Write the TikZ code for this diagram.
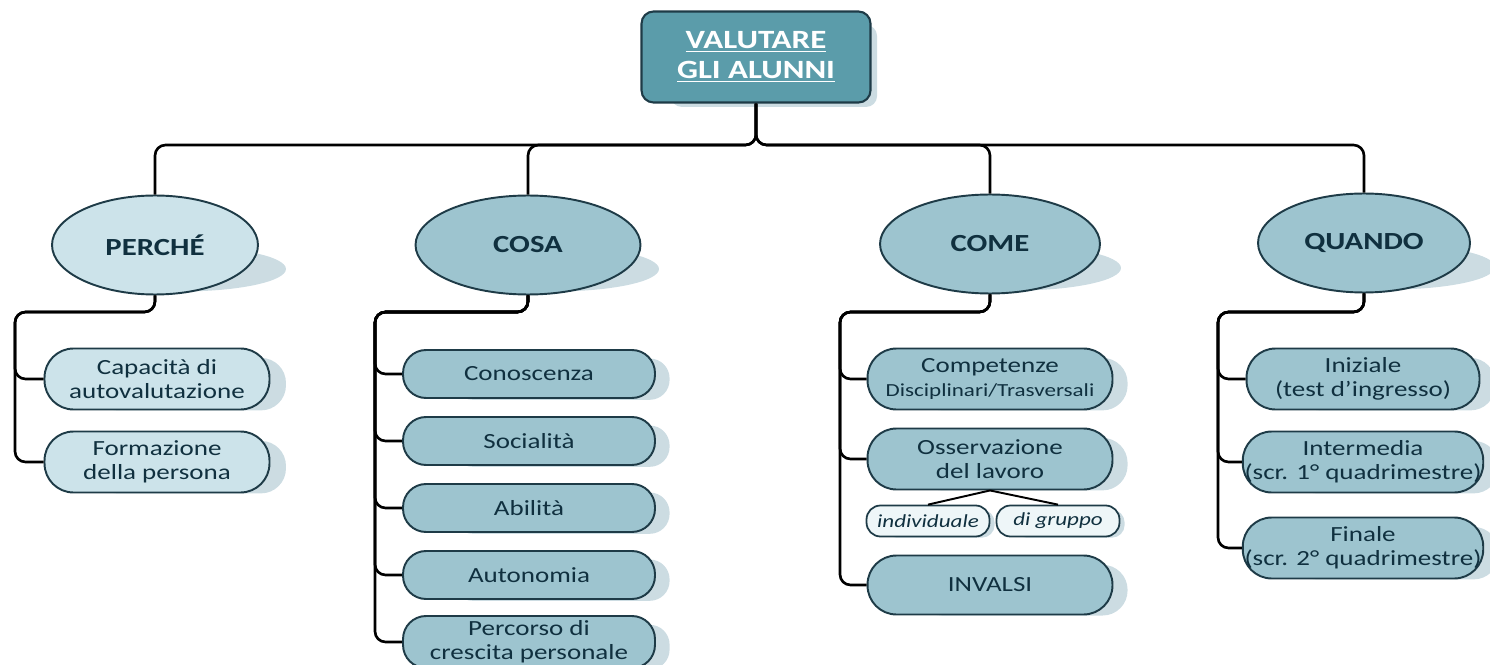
\documentclass[tikz,border=0pt]{standalone}
\usepackage{fontspec}
\setmainfont{Carlito}[FakeStretch=1.25]
\usetikzlibrary{shapes.geometric,shadows,backgrounds}

\definecolor{rootfill}{HTML}{5B9CAA}
\definecolor{edgeblue}{HTML}{1E3B47}
\definecolor{midblue}{HTML}{9DC4CF}
\definecolor{paleblue}{HTML}{CCE3EA}
\definecolor{whiteblue}{HTML}{EEF6F8}
\definecolor{shadowtint}{HTML}{BFD3DB}
\definecolor{inkblue}{HTML}{10303F}

\tikzset{
  link/.style={line width=1.5pt, rounded corners=6pt},
  rootbox/.style={rectangle, rounded corners=0.24cm, draw=edgeblue, line width=1.2pt,
    fill=rootfill, text=white, align=center, minimum width=4.58cm, minimum height=1.82cm,
    font=\bfseries\fontsize{15}{17}\selectfont,
    drop shadow={shadow xshift=0.4cm, shadow yshift=-0.2cm, shadow scale=0.9, fill=shadowtint, opacity=0.8}},
  question/.style={ellipse, draw=edgeblue, line width=1.1pt, fill=midblue, text=inkblue,
    minimum height=1.98cm, font=\bfseries\fontsize{14}{16}\selectfont},
  pill/.style={rectangle, rounded corners=0.58cm, draw=edgeblue, line width=1.1pt, fill=midblue,
    text=inkblue, align=center, minimum width=4.5cm, minimum height=1.22cm, inner sep=1pt,
    font=\fontsize{12.3}{13.8}\selectfont,
    drop shadow={shadow xshift=0.75cm, shadow yshift=-0.12cm, shadow scale=0.86, fill=shadowtint, opacity=0.8}},
  item/.style={pill, rounded corners=0.46cm, minimum width=5.04cm, minimum height=0.96cm},
  tag/.style={rectangle, rounded corners=0.28cm, draw=edgeblue, line width=1pt, fill=whiteblue,
    text=inkblue, minimum width=2.46cm, minimum height=0.62cm, inner sep=1pt,
    font=\itshape\fontsize{10.5}{12}\selectfont,
    drop shadow={shadow xshift=0.25cm, shadow yshift=-0.06cm, shadow scale=0.9, fill=shadowtint, opacity=0.8}}
}

\begin{document}
\begin{tikzpicture}[x=0.02cm,y=-0.02cm]
\useasboundingbox (0,0) rectangle (1490,665);

% root
\node[rootbox] (root) at (756,57) {\underline{VALUTARE}\\\underline{GLI ALUNNI}};

% questions
\node[question, fill=paleblue, minimum width=4.12cm] (perche) at (155,245) {PERCHÉ};
\node[question, minimum width=4.5cm] (cosa) at (528,245) {COSA};
\node[question, minimum width=4.4cm] (come) at (990,244) {COME};
\node[question, minimum width=4.24cm] (quando) at (1364,243) {QUANDO};

% perche
\node[pill, fill=paleblue] (capacita) at (157,379) {Capacità di\\autovalutazione};
\node[pill, fill=paleblue] (formazione) at (157,462) {Formazione\\della persona};

% cosa
\node[item] (conoscenza) at (529,374) {Conoscenza};
\node[item] (socialita) at (529,441) {Socialità};
\node[item] (abilita) at (529,508) {Abilità};
\node[item] (autonomia) at (529,575) {Autonomia};
\node[item, minimum height=1.04cm] (percorso) at (529,642) {Percorso di\\crescita personale};

% come
\node[pill, minimum width=4.9cm] (competenze) at (990,379)
  {Competenze\\{\fontsize{10.5}{12}\selectfont Disciplinari/Trasversali}};
\node[pill, minimum width=4.9cm] (osservazione) at (990,459) {Osservazione\\del lavoro};
\node[tag] (individuale) at (928,521) {individuale};
\node[tag] (gruppo) at (1058,521) {di gruppo};
\node[pill, minimum width=4.9cm, minimum height=1.18cm] (invalsi) at (990,585) {INVALSI};

% quando
\node[pill, minimum width=4.66cm] (iniziale) at (1363,379) {Iniziale\\(test d’ingresso)};
\node[pill, minimum width=4.66cm] (intermedia) at (1363,462) {Intermedia\\(scr. 1° quadrimestre)};
\node[pill, minimum width=4.66cm] (finale) at (1363,548) {Finale\\(scr. 2° quadrimestre)};

% shadows of the ellipses
\begin{scope}[on background layer]
\foreach \q in {perche,cosa,come,quando}
  \fill[shadowtint, opacity=0.8] ([shift={(26,24)}]\q.center) ellipse [x radius=2.1cm, y radius=0.45cm];
\end{scope}

% connectors
\coordinate (hub) at (756,145);
\coordinate (pk) at (15,312);
\coordinate (ck) at (375,312);
\coordinate (mk) at (840,312);
\coordinate (qk) at (1218,312);
\foreach \q in {perche,cosa,come,quando}
  \draw[link] (root.south) -- (hub) -| (\q.north);
\foreach \c in {capacita,formazione}
  \draw[link] (perche.south) |- (pk) |- (\c.west);
\foreach \c in {conoscenza,socialita,abilita,autonomia,percorso}
  \draw[link] (cosa.south) |- (ck) |- (\c.west);
\foreach \c in {competenze,osservazione,invalsi}
  \draw[link] (come.south) |- (mk) |- (\c.west);
\foreach \c in {iniziale,intermedia,finale}
  \draw[link] (quando.south) |- (qk) |- (\c.west);
\draw[line width=1.1pt] (osservazione.south) -- (individuale.north);
\draw[line width=1.1pt] (osservazione.south) -- (gruppo.north);
\end{tikzpicture}
\end{document}
